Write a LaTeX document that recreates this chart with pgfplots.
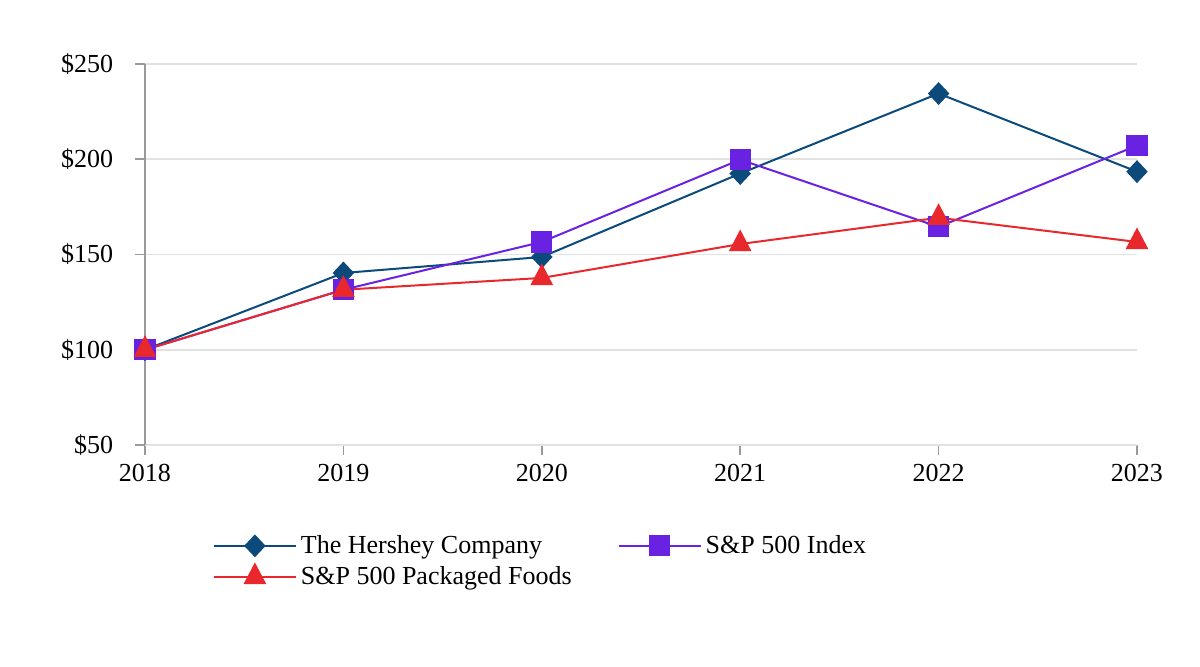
\documentclass[border=0pt]{standalone}
\usepackage{pgfplots}
\pgfplotsset{compat=1.18}
\usepackage{fontspec}
\setmainfont{Liberation Serif}

\definecolor{hershey}{HTML}{0B4A7A}
\definecolor{spx}{HTML}{6A22E2}
\definecolor{pkg}{HTML}{E8282C}
\definecolor{gridgray}{HTML}{E2E2E2}
\definecolor{axgray}{HTML}{9A9A9A}

\begin{document}
\begin{tikzpicture}
\useasboundingbox (-72.5pt,-110.5pt) rectangle (527.5pt,222.5pt);
\begin{axis}[
  scale only axis,
  width=496pt, height=190.5pt,
  xmin=2018, xmax=2023,
  ymin=50, ymax=250,
  clip=false,
  axis lines=left,
  axis line style={-},
  x axis line style={gridgray, line width=0.8pt},
  y axis line style={axgray, line width=0.8pt},
  xtick={2018,2019,2020,2021,2022,2023},
  xticklabels={2018,2019,2020,2021,2022,2023},
  ytick={50,100,150,200,250},
  yticklabels={\$50,\$100,\$150,\$200,\$250},
  tick align=outside,
  major tick length=5pt,
  tick style={axgray, line width=0.8pt},
  ymajorgrids,
  grid style={gridgray, line width=0.8pt},
  tick label style={font=\fontsize{13}{15}\selectfont},
  x tick label style={yshift=-1pt},
  y tick label style={xshift=-7.5pt},
  legend style={at={(rel axis cs:0.062,-0.215)}, anchor=north west,
    draw=none, fill=none, font=\fontsize{13}{15}\selectfont,
    row sep=1pt,
    /tikz/every even column/.append style={column sep=21pt}},
  legend columns=2,
  legend cell align=left,
  legend image code/.code={
    \draw[mark repeat=2, mark phase=2] plot coordinates {(0pt,0pt)(20.5pt,0pt)(41pt,0pt)};
  },
]
\addplot[hershey, line width=1pt, mark=diamond*, mark size=5pt, mark options={fill=hershey, draw=hershey, xscale=1.25}]
  coordinates {(2018,100)(2019,140.3)(2020,148.7)(2021,192.5)(2022,234.5)(2023,193.5)};
\addlegendentry{The Hershey Company}
\addplot[spx, line width=1pt, mark=square*, mark size=4.8pt, mark options={fill=spx, draw=spx}]
  coordinates {(2018,100)(2019,131.5)(2020,156.6)(2021,199.8)(2022,164.5)(2023,207.2)};
\addlegendentry{S\&P 500 Index}
\addplot[pkg, line width=1pt, mark=triangle*, mark size=5.6pt, mark options={fill=pkg, draw=pkg, yscale=1.1}]
  coordinates {(2018,100)(2019,131.5)(2020,137.7)(2021,155.5)(2022,169.3)(2023,156.6)};
\addlegendentry{S\&P 500 Packaged Foods}
\end{axis}
\end{tikzpicture}
\end{document}
